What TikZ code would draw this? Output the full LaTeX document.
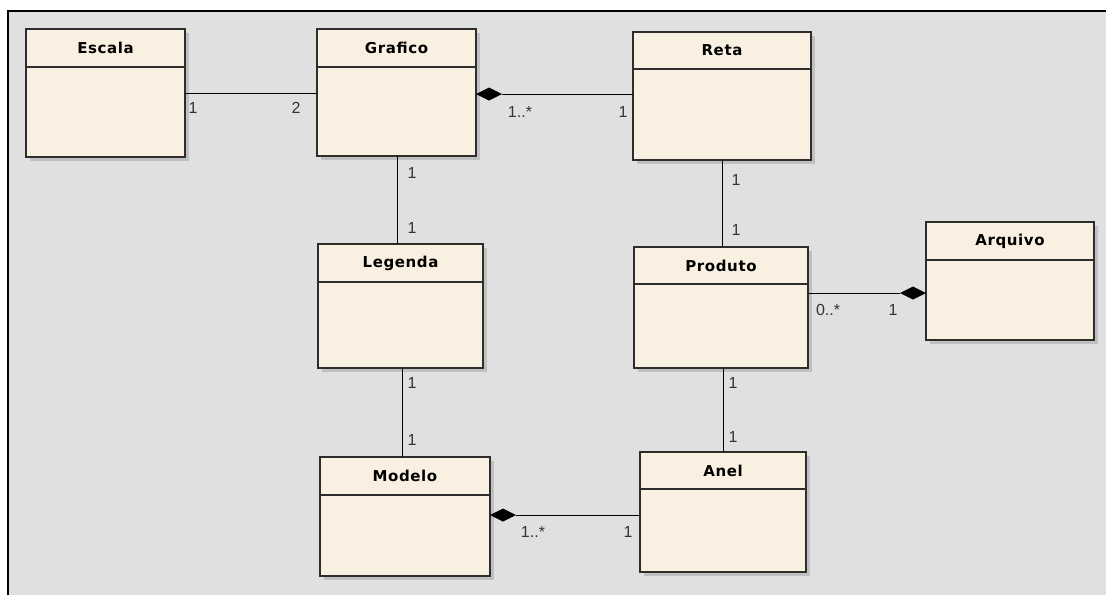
\documentclass[tikz,border=0pt]{standalone}
\usepackage{fontspec}
\setmainfont{Liberation Sans}
\newfontfamily\titlefont[LetterSpace=4]{DejaVu Sans}
\usetikzlibrary{calc}
\definecolor{bgc}{RGB}{224,224,224}
\definecolor{boxfill}{RGB}{250,240,225}
\definecolor{boxline}{RGB}{45,45,45}
\definecolor{shadowc}{RGB}{192,192,192}
\tikzset{
  classbox/.style={draw=boxline, fill=boxfill, line width=1.3pt, rectangle, inner sep=0pt, outer sep=0pt},
  hline/.style={draw=boxline, line width=1.3pt},
  classtitle/.style={font=\titlefont\bfseries\fontsize{15}{15}\selectfont, inner sep=0pt},
  mult/.style={font=\fontsize{16}{16}\selectfont, text=black!80, inner sep=0pt},
  assoc/.style={draw=black, line width=1pt},
  diamondtip/.style={fill=black}
}
\newcommand\umlclass[7]{%
  \fill[shadowc] (#2+4,#3+4) rectangle (#4+4,#5+4);
  \node[classbox, minimum width={(#4-#2)*1pt}, minimum height={(#5-#3)*1pt}, anchor=north west] (#1) at (#2,#3) {};
  \draw[hline] (#1.west |- 0,#6) -- (#1.east |- 0,#6);
  \node[classtitle] (#1-t) at ({(#2+#4)/2},{(#3+#6)/2}) {#7};
}
\begin{document}
\begin{tikzpicture}[x=1pt,y=-1pt]
\useasboundingbox (0,0) rectangle (1106,595);
\fill[white] (0,0) rectangle (1106,595);
\fill[bgc] (8,11) rectangle (1106,595);
\draw[line width=2pt] (8,595) -- (8,11) -- (1106,11);

\umlclass{escala}{26}{29}{185}{157}{67}{Escala}
\umlclass{grafico}{317}{29}{476}{156}{67}{Grafico}
\umlclass{reta}{633}{32}{811}{160}{69}{Reta}
\umlclass{legenda}{318}{244}{483}{368}{282}{Legenda}
\umlclass{produto}{634}{247}{808}{368}{284}{Produto}
\umlclass{arquivo}{926}{222}{1094}{340}{260}{Arquivo}
\umlclass{modelo}{320}{457}{490}{576}{495}{Modelo}
\umlclass{anel}{640}{452}{806}{572}{489}{Anel}

% Escala - Grafico
\draw[assoc] (escala.east |- 0,93) -- (grafico.west |- 0,93);
\node[mult] (m1) at (193,108) {1};
\node[mult] (m2) at (296,108) {2};

% Grafico - Reta (composition at Grafico)
\coordinate (d1) at (grafico.east |- 0,94);
\fill[diamondtip] (d1) -- ++(13,-6.5) -- ++(13,6.5) -- ++(-13,6.5) -- cycle;
\draw[assoc] ($(d1)+(26,0)$) -- (reta.west |- d1);
\node[mult] (m3) at (520,112) {1..*};
\node[mult] (m4) at (623,112) {1};

% Grafico - Legenda
\draw[assoc] (grafico.south -| 397,0) -- (legenda.north -| 397,0);
\node[mult] (m5) at (412,173) {1};
\node[mult] (m6) at (412,228) {1};

% Reta - Produto
\draw[assoc] (reta.south -| 722,0) -- (produto.north -| 722,0);
\node[mult] (m7) at (736,180) {1};
\node[mult] (m8) at (736,230) {1};

% Produto - Arquivo (composition at Arquivo)
\coordinate (d2) at (arquivo.west |- 0,293);
\fill[diamondtip] (d2) -- ++(-13,-6.5) -- ++(-13,6.5) -- ++(13,6.5) -- cycle;
\draw[assoc] (produto.east |- d2) -- ($(d2)+(-26,0)$);
\node[mult] (m9) at (828,310) {0..*};
\node[mult] (m10) at (893,310) {1};

% Legenda - Modelo
\draw[assoc] (legenda.south -| 402,0) -- (modelo.north -| 402,0);
\node[mult] (m11) at (412,383) {1};
\node[mult] (m12) at (412,440) {1};

% Produto - Anel
\draw[assoc] (produto.south -| 723,0) -- (anel.north -| 723,0);
\node[mult] (m13) at (733,383) {1};
\node[mult] (m14) at (733,437) {1};

% Modelo - Anel (composition at Modelo)
\coordinate (d3) at (modelo.east |- 0,515);
\fill[diamondtip] (d3) -- ++(13,-6.5) -- ++(13,6.5) -- ++(-13,6.5) -- cycle;
\draw[assoc] ($(d3)+(26,0)$) -- (anel.west |- d3);
\node[mult] (m15) at (533,532) {1..*};
\node[mult] (m16) at (628,532) {1};
\end{tikzpicture}
\end{document}
